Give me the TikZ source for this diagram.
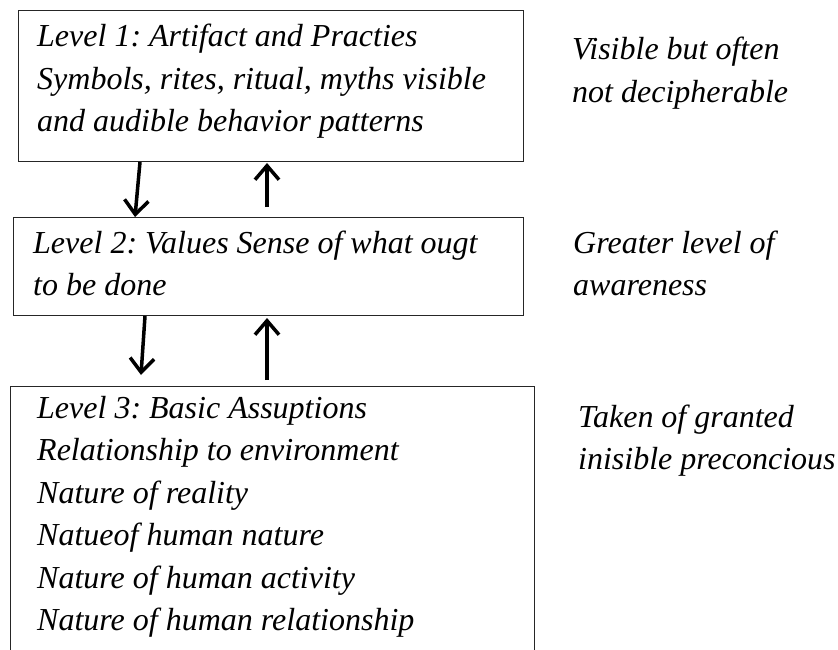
\documentclass[tikz,border=0pt]{standalone}
\usepackage{fontspec}
\setmainfont{Liberation Serif}
\usetikzlibrary{arrows.meta,calc}

\tikzset{
  levelbox/.style={draw=black!85, line width=1pt, inner sep=0pt, anchor=north west},
  txt/.style={inner sep=0pt, anchor=base west, font=\fontsize{32}{42.5}\selectfont\itshape},
  flow/.style={line width=3.5pt, -{Straight Barb[length=14pt,width=24pt]}}
}
\newcommand{\lines}[1]{\parbox[t]{520pt}{\frenchspacing#1}}

\begin{document}
\begin{tikzpicture}[x=1pt,y=-1pt]
  \useasboundingbox (0,0) rectangle (838,650);
  \clip (0,0) rectangle (838,650);

  % the three levels
  \node[levelbox, minimum width=505, minimum height=151] (b1) at (18,10) {};
  \node[levelbox, minimum width=510, minimum height=98] (b2) at (13,217) {};
  \node[levelbox, minimum width=524, minimum height=320] (b3) at (10,386) {};

  % texts inside the boxes
  \node[txt] (t1) at (37,47) {\lines{Level 1: Artifact and Practies\\
    Symbols, rites, ritual, myths visible\\
    and audible behavior patterns}};
  \node[txt] (t2) at (33,253) {\lines{Level 2: Values Sense of what ougt\\
    to be done}};
  \node[txt] (t3) at (37,418) {\lines{Level 3: Basic Assuptions\\
    Relationship to environment\\
    Nature of reality\\
    Natueof human nature\\
    Nature of human activity\\
    Nature of human relationship}};

  % side notes
  \node[txt] (n1) at (572,60) {\lines{Visible but often\\not decipherable}};
  \node[txt] (n2) at (573,253) {\lines{Greater level of\\awareness}};
  \node[txt] (n3) at (578,427) {\lines{Taken of granted\\inisible preconcious}};

  % arrows between levels
  \draw[flow] ($(b1.south west)+(122,0)$) -- ($(b2.north west)+(122,0)$);
  \draw[flow] ($(b2.north west)+(254,-10)$) -- ($(b1.south west)+(249,1)$);
  \draw[flow] ($(b2.south west)+(132,0)$) -- ($(b3.north west)+(131,-11)$);
  \draw[flow] ($(b3.north west)+(257,-6)$) -- ($(b2.south west)+(254,2)$);
\end{tikzpicture}
\end{document}
